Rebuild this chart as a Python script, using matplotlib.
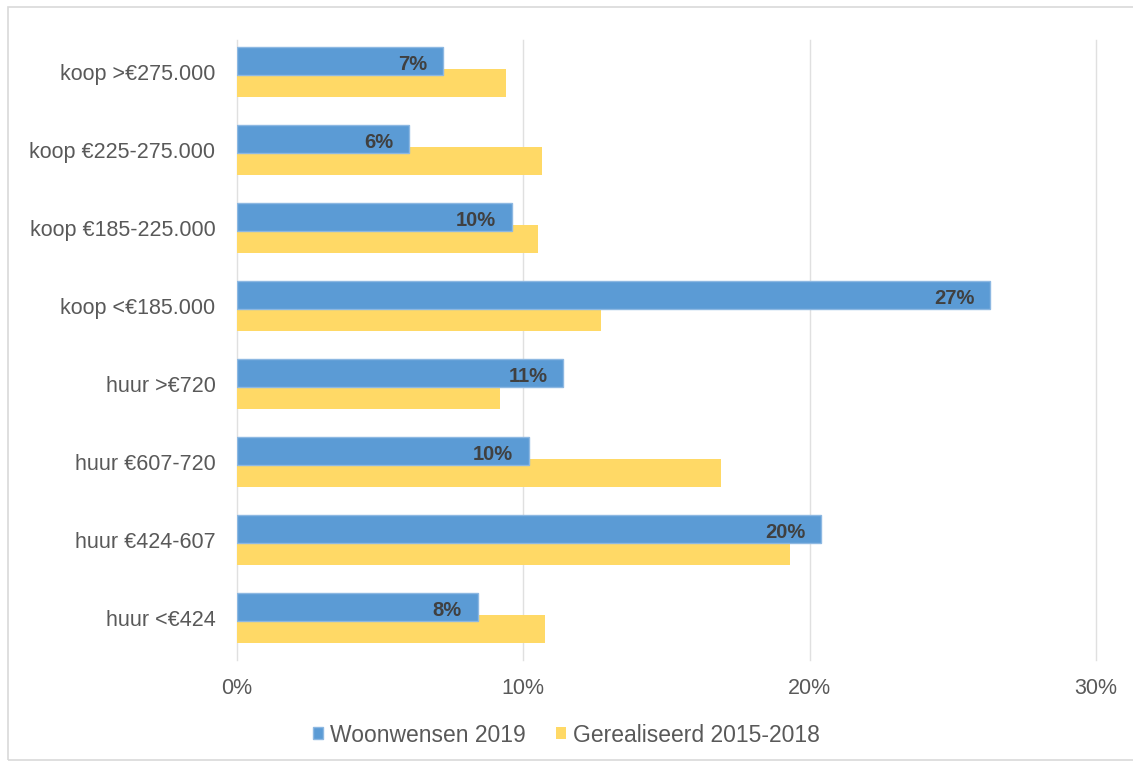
import numpy as np
import matplotlib
matplotlib.use("Agg")
import matplotlib.pyplot as plt
from matplotlib.patches import Rectangle

plt.rcParams['font.family'] = ['Liberation Sans', 'DejaVu Sans']

categories = ["huur <€424", "huur €424-607", "huur €607-720", "huur >€720",
              "koop <€185.000", "koop €185-225.000", "koop €225-275.000", "koop >€275.000"]
woonwensen = [8.4, 20.4, 10.2, 11.4, 26.3, 9.6, 6.0, 7.2]
gerealiseerd = [10.75, 19.3, 16.9, 9.2, 12.7, 10.5, 10.65, 9.4]
labels = ["8%", "20%", "10%", "11%", "27%", "10%", "6%", "7%"]
xticks = [0, 10, 20, 30]

blue = "#5B9BD5"
yellow = "#FFD966"

fig = plt.figure(figsize=(11.33, 7.62), dpi=100)
fig.patches.append(Rectangle((8 / 1133, 0.002), 1.2, 1 - 7 / 762 - 0.002,
                             transform=fig.transFigure, fill=False,
                             edgecolor="#d9d9d9", linewidth=1.2))
ax = fig.add_axes([237 / 1133, 1 - 660 / 762, (1096 - 237) / 1133, (660 - 40) / 762])

y = np.arange(len(categories))
h = 0.36
off = 0.14
ax.barh(y - off, gerealiseerd, height=h, color=yellow, zorder=2,
        label="Gerealiseerd 2015-2018")
ax.barh(y + off, woonwensen, height=h, color=blue, edgecolor="#8db8e2",
        linewidth=1.0, zorder=3, label="Woonwensen 2019")

for yi, v, t in zip(y, woonwensen, labels):
    ax.text(v - 0.55, yi + off - 0.05, t, ha="right", va="center",
            fontsize=14.5, fontweight="bold", color="#404040", zorder=4)

ax.set_xlim(0, 30)
ax.set_ylim(-0.54, 7.41)
ax.set_xticks(xticks)
ax.set_xticklabels([f"{t}%" for t in xticks], fontsize=15.5, color="#595959")
ax.set_yticks(y)
ax.set_yticklabels(categories, fontsize=15.5, color="#595959")
ax.tick_params(axis="both", length=0)
ax.tick_params(axis="x", pad=13)
ax.tick_params(axis="y", pad=15.5)
for s in ax.spines.values():
    s.set_visible(False)
ax.grid(axis="x", color="#e0e0e0", linewidth=1.0, zorder=0)
for gl in ax.get_xgridlines():
    gl.set_clip_on(False)
ax.set_axisbelow(True)

handles, lbls = ax.get_legend_handles_labels()
fig.legend(handles[::-1], lbls[::-1], loc="center", bbox_to_anchor=(0.5, 1 - 735 / 762),
           ncol=2, frameon=False, fontsize=16.5, handlelength=0.45, handleheight=0.45,
           handletextpad=0.3, columnspacing=1.3, labelcolor="#595959")

fig.savefig("out.png", dpi=100)
